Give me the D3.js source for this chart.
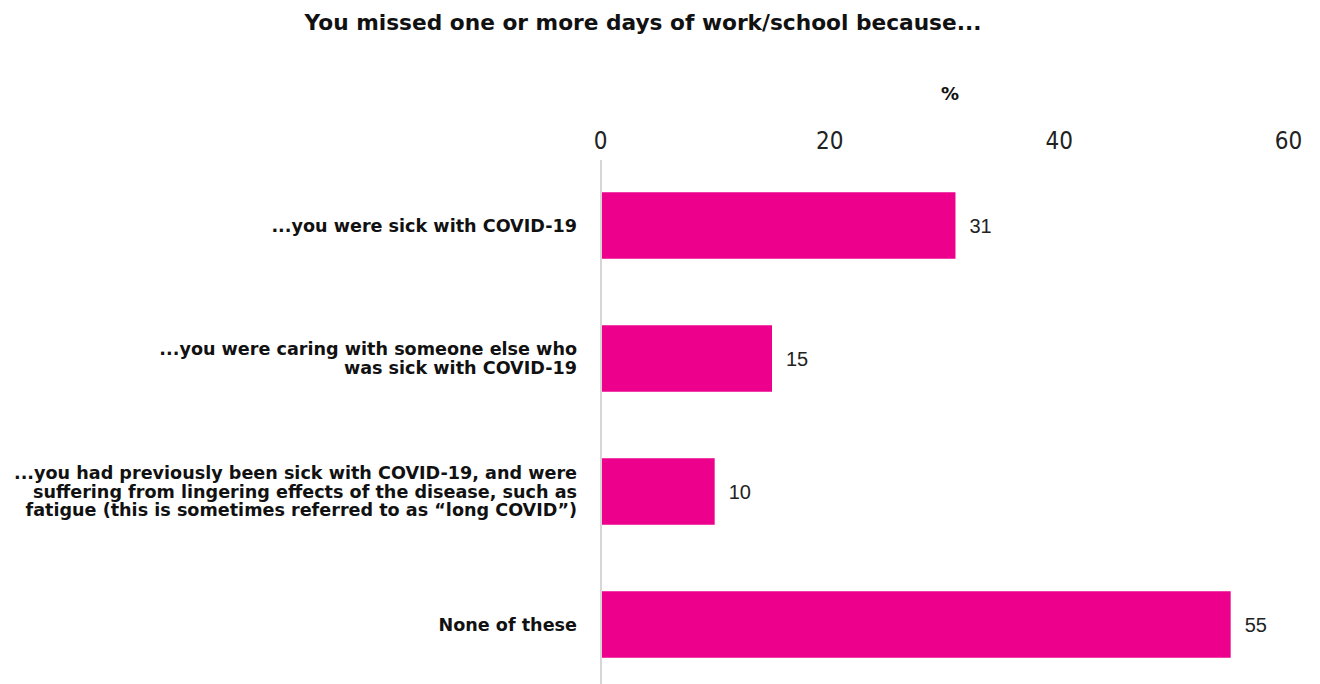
<!DOCTYPE html>
<html>
<head>
<meta charset="utf-8">
<script src="https://cdn.jsdelivr.net/npm/d3@7"></script>
<style>
  html, body { margin: 0; padding: 0; background: #fff; }
  svg { display: block; }
</style>
</head>
<body>
<svg id="chart" width="1320" height="684"></svg>
<script>
const title = "You missed one or more days of work/school because...";
const axisLabel = "%";
const categories = [
  ["...you were sick with COVID-19"],
  ["...you were caring with someone else who", "was sick with COVID-19"],
  ["...you had previously been sick with COVID-19, and were", "suffering from lingering effects of the disease, such as", "fatigue (this is sometimes referred to as \u201clong COVID\u201d)"],
  ["None of these"]
];
const values = [31, 15, 10, 55];
const tickValues = [0, 20, 40, 60];

const svg = d3.select("#chart");
const W = 1320, H = 684;

const x = d3.scaleLinear().domain([0, 60]).range([600, 1288]);
const y = d3.scaleBand().domain(d3.range(categories.length))
  .range([159, 691]).paddingInner(0.5).paddingOuter(0.25);

const labelFont = "'DejaVu Sans', Verdana, sans-serif";

// title
svg.append("text")
  .attr("x", 643).attr("y", 30)
  .attr("text-anchor", "middle")
  .attr("font-family", labelFont)
  .attr("font-weight", "bold")
  .attr("font-size", 21.7)
  .attr("fill", "#111")
  .text(title);

// % label
svg.append("text")
  .attr("x", 950).attr("y", 100)
  .attr("text-anchor", "middle")
  .attr("font-family", labelFont)
  .attr("font-weight", "bold")
  .attr("font-size", 18)
  .attr("fill", "#111")
  .text(axisLabel);

// top axis
const xAxis = d3.axisTop(x).tickValues(tickValues).tickSize(0).tickPadding(0);
const gx = svg.append("g").attr("transform", "translate(0,149)").call(xAxis);
gx.select(".domain").remove();
gx.selectAll("text")
  .attr("font-family", "'DejaVu Sans Condensed', 'Liberation Sans Narrow', sans-serif")
  .attr("font-size", 24)
  .attr("fill", "#222");

// vertical axis line
svg.append("line")
  .attr("x1", 601).attr("x2", 601)
  .attr("y1", 160).attr("y2", H)
  .attr("stroke", "#c8c8c8").attr("stroke-width", 1.5);

// bars
svg.append("g").selectAll("rect")
  .data(values)
  .join("rect")
  .attr("x", x(0) + 2)
  .attr("y", (d, i) => y(i))
  .attr("width", d => x(d) - x(0) - 2)
  .attr("height", y.bandwidth())
  .attr("fill", "#EC008C");

// value labels
svg.append("g").selectAll("text")
  .data(values)
  .join("text")
  .attr("x", d => x(d) + 14)
  .attr("y", (d, i) => y(i) + y.bandwidth() / 2)
  .attr("dy", "0.35em")
  .attr("font-family", "'Liberation Sans', Arial, sans-serif")
  .attr("font-size", 20)
  .attr("fill", "#222")
  .text(d => d);

// category labels
const lineH = 18.5;
const cg = svg.append("g").selectAll("text")
  .data(categories)
  .join("text")
  .attr("text-anchor", "end")
  .attr("font-family", labelFont)
  .attr("font-weight", "bold")
  .attr("font-size", 17.6)
  .attr("fill", "#111");
cg.each(function(lines, i) {
  const cy = y(i) + y.bandwidth() / 2;
  const start = cy - (lines.length - 1) * lineH / 2;
  d3.select(this).selectAll("tspan")
    .data(lines)
    .join("tspan")
    .attr("x", 577)
    .attr("y", (d, j) => start + j * lineH)
    .attr("dy", "0.35em")
    .text(d => d);
});
</script>
</body>
</html>
